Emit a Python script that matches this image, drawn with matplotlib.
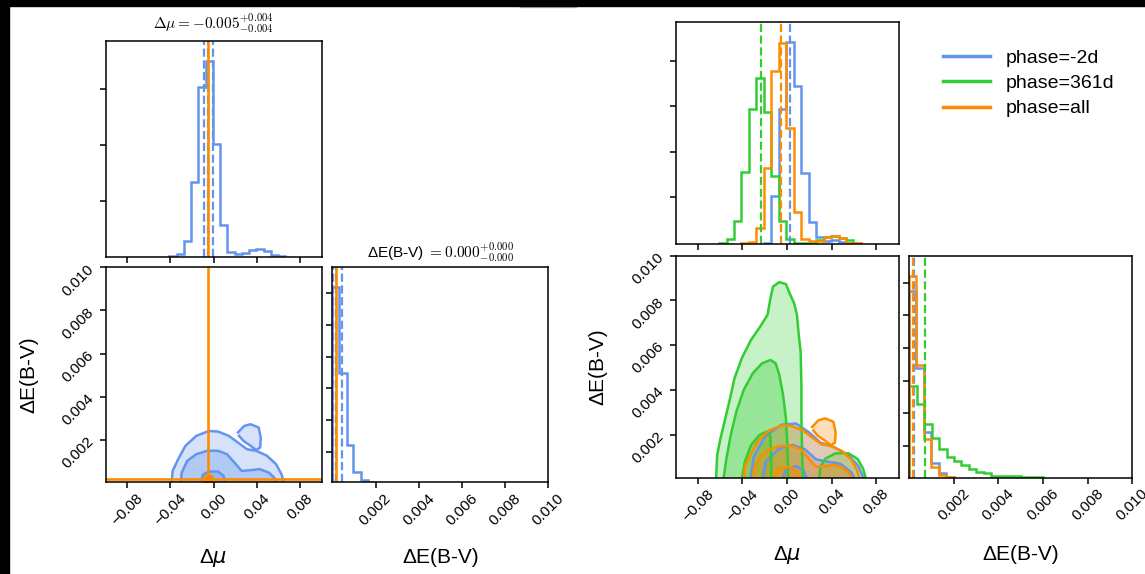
import matplotlib
matplotlib.use('Agg')
from matplotlib import pyplot as plt
from matplotlib.lines import Line2D
from matplotlib.patches import Rectangle

plt.rcParams['font.family'] = ['Liberation Sans', 'DejaVu Sans']
plt.rcParams['mathtext.fontset'] = 'dejavusans'

BLUE = '#6495ed'
GREEN = '#32cd32'
ORANGE = '#ff8c00'

# ---- 1D histograms of delta mu (bin edges + counts) ----
mu_edges_all = [-0.0409, -0.0342, -0.0275, -0.0208, -0.0141, -0.0074, -0.0007, 0.0060, 0.0127,
                0.0194, 0.0261, 0.0328, 0.0395, 0.0462, 0.0529, 0.0596, 0.0663]
mu_counts_all = [3, 7, 47, 228, 516, 598, 345, 97, 15, 9, 11, 21, 25, 18, 5, 3]

mu_edges_m2d = [-0.0208, -0.0141, -0.0074, -0.0007, 0.0060, 0.0127, 0.0194, 0.0261, 0.0328,
                0.0395, 0.0462, 0.0529, 0.0596]
mu_counts_m2d = [5, 145, 402, 600, 472, 212, 65, 22, 10, 12, 8, 4]

mu_edges_361 = [-0.0610, -0.0543, -0.0476, -0.0409, -0.0342, -0.0275, -0.0208, -0.0141, -0.0074,
                -0.0007, 0.0060, 0.0127, 0.0194, 0.0261, 0.0328, 0.0395, 0.0462, 0.0529, 0.0596, 0.0663]
mu_counts_361 = [5, 15, 70, 215, 402, 495, 392, 202, 70, 15, 5, 3, 5, 13, 21, 25, 19, 13, 5]

# ---- 1D histograms of delta E(B-V) ----
ebv_edges_all = [0.0, 0.0003, 0.00066, 0.00098, 0.00132, 0.00166, 0.0020]
ebv_counts_all = [605, 338, 117, 31, 7, 2]
ebv_counts_m2d = [560, 330, 138, 45, 15, 3]

ebv_edges_361 = [0.0, 0.00033, 0.00067, 0.001, 0.00133, 0.00167, 0.002, 0.00233, 0.00267, 0.003,
                 0.00333, 0.00367, 0.004, 0.00433, 0.00467, 0.005, 0.00533, 0.00567, 0.006]
ebv_counts_361 = [275, 221, 161, 118, 85, 63, 50, 38, 27, 18, 13, 5, 5, 4, 4, 3, 3, 3]

# quantile (dashed) lines and truths
mu_q_all = [-0.0093, -0.005, -0.001]
ebv_q_all = [0.00003, 0.00015, 0.00044]
mu_med = {'m2d': 0.0029, '361': -0.0238, 'all': -0.0052}
ebv_med = {'m2d': 0.0002, '361': 0.00072, 'all': 0.00015}
mu_true = -0.005
ebv_true = 0.00018

# ---- 2D contour outlines (data units), outer / middle / inner level ----
all_outer_x = [-0.0389, -0.0379, -0.0328, -0.0261, -0.0161, -0.0043, 0.0041, 0.0141, 0.0225,
               0.0309, 0.0393, 0.0493, 0.0577, 0.0627, 0.0651]
all_outer_y = [0.0, 0.00057, 0.00111, 0.00173, 0.00219, 0.00242, 0.00239, 0.00219, 0.00188,
               0.00157, 0.00150, 0.00127, 0.00088, 0.00042, 0.0]
all_island_x = [0.0225, 0.0282, 0.0342, 0.0416, 0.0436, 0.0430, 0.0393, 0.0342, 0.0275, 0.0235]
all_island_y = [0.00235, 0.00265, 0.00273, 0.00258, 0.00211, 0.00165, 0.00153, 0.00173, 0.00196, 0.00219]
all_mid_x = [-0.0305, -0.0295, -0.0245, -0.0161, -0.0060, 0.0041, 0.0124, 0.0191, 0.0258,
             0.0342, 0.0426, 0.0510, 0.0560, 0.0584]
all_mid_y = [0.0, 0.00049, 0.00103, 0.00134, 0.00150, 0.00150, 0.00134, 0.00096, 0.00057,
             0.00060, 0.00065, 0.00049, 0.00026, 0.0]
all_inner_x = [-0.0121, -0.0100, -0.0043, 0.0041, 0.0091, 0.0108]
all_inner_y = [0.0, 0.00039, 0.00054, 0.00054, 0.00034, 0.0]

g_outer_x = [-0.0637, -0.0627, -0.0597, -0.0554, -0.0511, -0.0472, -0.0406, -0.0323, -0.0241,
             -0.0175, -0.0149, -0.0126, -0.0070, -0.0010, 0.0023, 0.0063, 0.0089, 0.0105, 0.0122,
             0.0129, 0.0129, 0.0135, 0.0142]
g_outer_y = [0.0, 0.00109, 0.00184, 0.00273, 0.00363, 0.00452, 0.00542, 0.00624, 0.00683,
             0.00736, 0.00810, 0.00862, 0.00882, 0.00873, 0.00832, 0.00788, 0.00736, 0.00646, 0.00571,
             0.00422, 0.00273, 0.00124, 0.0]
g_bump_x = [0.0287, 0.0300, 0.0346, 0.0435, 0.0551, 0.0633, 0.0682, 0.0709]
g_bump_y = [0.0, 0.00057, 0.00094, 0.00117, 0.00117, 0.00092, 0.00049, 0.0]
g_mid_x = [-0.0571, -0.0544, -0.0505, -0.0455, -0.0389, -0.0307, -0.0224, -0.0149, -0.0102,
           -0.0069, -0.0036, -0.0010, 0.0003, 0.0010]
g_mid_y = [0.0, 0.00094, 0.00199, 0.00303, 0.00400, 0.00475, 0.00519, 0.00534, 0.00519,
           0.00467, 0.00378, 0.00273, 0.00154, 0.0]
g_inner_x = [-0.0406, -0.0379, -0.0323, -0.0247, -0.0181, -0.0149, -0.0142, -0.0142]
g_inner_y = [0.0, 0.00079, 0.00154, 0.00199, 0.00214, 0.00192, 0.00094, 0.0]

b_outer_x = [-0.033, -0.030, -0.020, -0.005, 0.008, 0.020, 0.030, 0.042, 0.055, 0.064, 0.069]
b_outer_y = [0.0, 0.0010, 0.0019, 0.00245, 0.0025, 0.0021, 0.00165, 0.00145, 0.0011, 0.0006, 0.0]
b_mid_x = [-0.022, -0.019, -0.008, 0.005, 0.016, 0.026, 0.036, 0.048, 0.058, 0.061]
b_mid_y = [0.0, 0.0008, 0.00135, 0.00155, 0.00135, 0.0009, 0.0008, 0.0007, 0.0003, 0.0]
b_inner_x = [-0.004, -0.001, 0.008, 0.015, 0.018]
b_inner_y = [0.0, 0.00045, 0.0006, 0.0004, 0.0]

contours_all = [[(all_outer_x, all_outer_y), (all_island_x, all_island_y)],
                [(all_mid_x, all_mid_y)], [(all_inner_x, all_inner_y)]]
contours_361 = [[(g_outer_x, g_outer_y), (g_bump_x, g_bump_y)],
                [(g_mid_x, g_mid_y)], [(g_inner_x, g_inner_y)]]
contours_m2d = [[(b_outer_x, b_outer_y)], [(b_mid_x, b_mid_y)], [(b_inner_x, b_inner_y)]]

mu_ticks = [-0.08, -0.04, 0.0, 0.04, 0.08]
mu_ticklabels = ['\u22120.08', '\u22120.04', '0.00', '0.04', '0.08']
ebv_ticks = [0.002, 0.004, 0.006, 0.008, 0.010]
ebv_ticklabels = ['0.002', '0.004', '0.006', '0.008', '0.010']
legend_labels = ['phase=-2d', 'phase=361d', 'phase=all']

W, H = 1145, 574
fig = plt.figure(figsize=(W / 100, H / 100), dpi=100)


def px_axes(x0, y0, x1, y1):
    return fig.add_axes([x0 / W, 1 - y1 / H, (x1 - x0) / W, (y1 - y0) / H])


def style(ax):
    ax.tick_params(direction='out', length=4.5, width=1.1, labelsize=11, pad=2)
    for s in ax.spines.values():
        s.set_linewidth(1.1)


def draw_contours(ax, levels, color):
    alphas = [0.27, 0.32, 0.35]
    for lev, shapes in enumerate(levels):
        for xs, ys in shapes:
            ax.fill(xs, ys, color=color, alpha=alphas[lev], lw=0)
            ax.plot(xs, ys, color=color, lw=1.8)


def setup_2d(ax, ylow, xlab_y, ylab_x):
    ax.set_xlim(-0.1, 0.1)
    ax.set_ylim(ylow, 0.01)
    ax.set_xticks(mu_ticks)
    ax.set_xticklabels(mu_ticklabels, rotation=45)
    ax.set_yticks(ebv_ticks)
    ax.set_yticklabels(ebv_ticklabels, rotation=45)
    ax.set_xlabel('\u0394$\\mu$', fontsize=15, va='center')
    ax.set_ylabel('\u0394E(B-V)', fontsize=15, va='center')
    ax.xaxis.set_label_coords(0.5, xlab_y)
    ax.yaxis.set_label_coords(ylab_x, 0.5)
    style(ax)


def setup_ebv_hist(ax, top, xlab_y):
    ax.set_xlim(0.0, 0.01)
    ax.set_ylim(0, top)
    ax.set_xticks(ebv_ticks)
    ax.set_xticklabels(ebv_ticklabels, rotation=45)
    ax.set_yticks([95, 193, 291, 389, 487, 585])
    ax.set_yticklabels([])
    ax.set_xlabel('\u0394E(B-V)', fontsize=15, va='center')
    ax.xaxis.set_label_coords(0.5, xlab_y)
    style(ax)


def setup_mu_hist(ax, top, yticks):
    ax.set_xlim(-0.1, 0.1)
    ax.set_ylim(0, top)
    ax.set_xticks(mu_ticks)
    ax.set_xticklabels([])
    ax.set_yticks(yticks)
    ax.set_yticklabels([])
    style(ax)


# ================= left corner plot (phase=all only, truths in orange) =================
axL_top = px_axes(105.5, 41, 321.8, 256.7)
axL_2d = px_axes(105.5, 267.3, 321.8, 482.3)
axL_e = px_axes(332.3, 267.3, 548.4, 482.3)

axL_top.stairs(mu_counts_all, mu_edges_all, color=BLUE, lw=1.8)
for q in mu_q_all:
    axL_top.axvline(q, color=BLUE, ls='--', lw=1.6)
axL_top.axvline(mu_true, color=ORANGE, lw=1.9)
setup_mu_hist(axL_top, 1.1 * max(mu_counts_all), [170, 341, 512])
axL_top.text(0.5, 1.083, r'$\Delta\mu = -0.005^{+0.004}_{-0.004}$', transform=axL_top.transAxes,
             ha='center', va='center', fontsize=11, math_fontfamily='cm')

draw_contours(axL_2d, contours_all, BLUE)
axL_2d.axvline(mu_true, color=ORANGE, lw=1.9)
axL_2d.axhline(ebv_true, color=ORANGE, lw=1.9)
axL_2d.plot([mu_true], [ebv_true], 's', color=ORANGE, ms=6)
setup_2d(axL_2d, 0.00004, -0.352, -0.354)

axL_e.stairs(ebv_counts_all, ebv_edges_all, color=BLUE, lw=1.8)
for q in ebv_q_all:
    axL_e.axvline(q, color=BLUE, ls='--', lw=1.6)
axL_e.axvline(ebv_true, color=ORANGE, lw=1.9)
setup_ebv_hist(axL_e, 1.1 * max(ebv_counts_all), -0.352)
axL_e.text(0.5, 1.071, '\u0394E(B-V) $= 0.000^{+0.000}_{-0.000}$', transform=axL_e.transAxes,
           ha='center', va='center', fontsize=11, math_fontfamily='cm')

# ================= right corner plot (three phases overplotted) =================
axR_top = px_axes(675.6, 22.3, 898.5, 244.3)
axR_2d = px_axes(675.6, 255.7, 898.5, 477.7)
axR_e = px_axes(909.3, 255.7, 1132.2, 477.7)

axR_top.stairs(mu_counts_m2d, mu_edges_m2d, color=BLUE, lw=1.8)
axR_top.stairs(mu_counts_361, mu_edges_361, color=GREEN, lw=1.8)
axR_top.stairs(mu_counts_all, mu_edges_all, color=ORANGE, lw=1.8)
axR_top.axvline(mu_med['m2d'], color=BLUE, ls='--', lw=1.6)
axR_top.axvline(mu_med['361'], color=GREEN, ls='--', lw=1.6)
axR_top.axvline(mu_med['all'], color=ORANGE, ls='--', lw=1.6)
setup_mu_hist(axR_top, 1.1 * max(mu_counts_m2d), [140, 275, 410, 545])

draw_contours(axR_2d, contours_m2d, BLUE)
draw_contours(axR_2d, contours_361, GREEN)
draw_contours(axR_2d, contours_all, ORANGE)
setup_2d(axR_2d, 0.00008, -0.348, -0.350)

axR_e.stairs(ebv_counts_m2d, ebv_edges_all, color=BLUE, lw=1.8)
axR_e.stairs(ebv_counts_361, ebv_edges_361, color=GREEN, lw=1.8)
axR_e.stairs(ebv_counts_all, ebv_edges_all, color=ORANGE, lw=1.8)
axR_e.axvline(ebv_med['m2d'], color=BLUE, ls='--', lw=1.6)
axR_e.axvline(ebv_med['361'], color=GREEN, ls='--', lw=1.6)
axR_e.axvline(ebv_med['all'], color=ORANGE, ls='--', lw=1.6)
setup_ebv_hist(axR_e, 1.1 * max(ebv_counts_all), -0.348)

handles = [Line2D([], [], color=c, lw=2.5) for c in (BLUE, GREEN, ORANGE)]
fig.legend(handles, legend_labels, loc='upper left', bbox_to_anchor=(943 / W, 1 - 49 / H),
           frameon=False, fontsize=14, handlelength=2.4, handletextpad=0.8,
           labelspacing=0.4, borderpad=0, borderaxespad=0)

# black frame remnants along the top and left edge of the picture
fig.patches.append(Rectangle((0, 1 - 5.7 / H), 1, 5.7 / H, transform=fig.transFigure,
                             color='black', zorder=10))
fig.patches.append(Rectangle((0, 0), 9.3 / W, 1, transform=fig.transFigure,
                             color='black', zorder=10))
fig.add_artist(Line2D([520 / W, 576 / W], [1 - 6.5 / H, 1 - 6.5 / H], color='#b8b8b8', lw=1))

fig.savefig('out.png', dpi=100)
